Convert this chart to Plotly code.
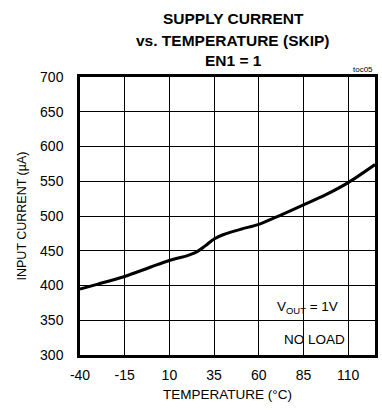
import plotly.graph_objects as go

temperature = [-40, -30, -15, 0, 10, 20, 25, 30, 35, 40, 50, 60, 72, 85, 97, 110, 125]
input_current = [395, 402, 413, 427, 436, 443, 448, 457, 467, 473, 481, 488, 501, 516, 530, 548, 574]
x_ticks = [-40, -15, 10, 35, 60, 85, 110]
y_ticks = [300, 350, 400, 450, 500, 550, 600, 650, 700]
title_lines = ["SUPPLY CURRENT", "vs. TEMPERATURE (SKIP)", "EN1 = 1"]

FONT = "Liberation Sans, Arial, sans-serif"

fig = go.Figure()
fig.add_trace(go.Scatter(x=temperature, y=input_current, mode="lines",
                         line=dict(color="black", width=3, shape="spline", smoothing=0.8),
                         hoverinfo="skip"))

title_y = [1.21, 1.133, 1.058]
annotations = [dict(text="<b>%s</b>" % t, x=0.52, y=yy, xref="paper", yref="paper",
                    xanchor="center", yanchor="middle", showarrow=False,
                    font=dict(size=15.5, color="black"))
               for t, yy in zip(title_lines, title_y)]
annotations += [
    dict(text="V<sub>OUT</sub> = 1V", x=87, y=369, xref="x", yref="y",
         showarrow=False, font=dict(size=13.5)),
    dict(text="NO LOAD", x=91, y=322, xref="x", yref="y",
         showarrow=False, font=dict(size=13.5)),
    dict(text="toc05", x=1.0, y=1.005, xref="paper", yref="paper",
         xanchor="right", yanchor="bottom", showarrow=False, font=dict(size=8)),
]

fig.update_layout(
    width=382, height=410,
    margin=dict(l=80, r=4, t=77, b=55),
    paper_bgcolor="white", plot_bgcolor="white",
    showlegend=False,
    font=dict(family=FONT, color="black", size=14),
    xaxis=dict(range=[-40, 125], tickvals=x_ticks, ticktext=[str(v) for v in x_ticks],
               showgrid=True, gridcolor="black", gridwidth=1,
               showline=True, linecolor="black", linewidth=2.5, mirror=True,
               ticks="outside", ticklen=5, tickcolor="rgba(0,0,0,0)",
               zeroline=False, tickfont=dict(size=14),
               title=dict(text="TEMPERATURE (°C)", font=dict(size=13.5), standoff=9)),
    yaxis=dict(range=[300, 700], tickvals=y_ticks,
               showgrid=True, gridcolor="black", gridwidth=1,
               showline=True, linecolor="black", linewidth=2.5, mirror=True,
               ticks="outside", ticklen=11, tickcolor="rgba(0,0,0,0)",
               zeroline=False, tickfont=dict(size=14),
               title=dict(text="INPUT CURRENT (µA)", font=dict(size=12.5), standoff=11)),
    annotations=annotations,
)

fig.write_html("out.html")
